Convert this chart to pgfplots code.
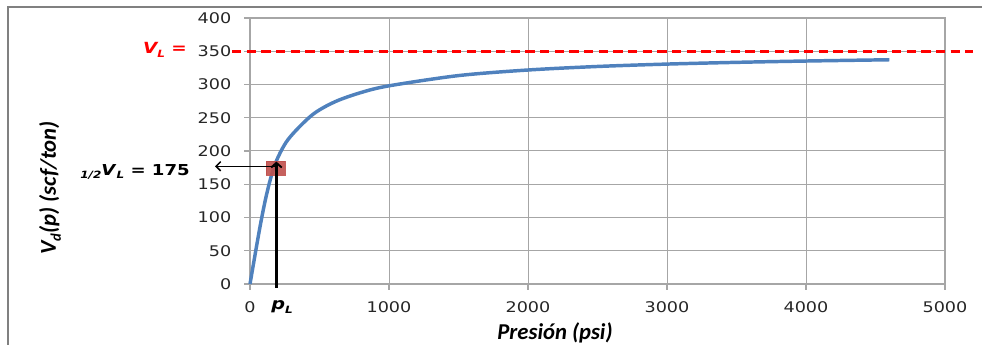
\documentclass[border=0pt]{standalone}
\usepackage{fontspec}
\setmainfont{DejaVu Sans}
\newfontfamily\tickfont[FakeStretch=1.2]{DejaVu Sans}
\newfontfamily\annfont[FakeStretch=1.2]{DejaVu Sans}
\newfontfamily\labfont{Carlito}
\usepackage{pgfplots}
\pgfplotsset{compat=1.18}
\usetikzlibrary{arrows.meta}
\definecolor{curveblue}{RGB}{79,129,189}
\definecolor{markred}{RGB}{192,80,77}
\definecolor{gridgray}{RGB}{166,166,166}
\definecolor{framegray}{RGB}{128,128,128}
\pgfplotstableread{
p V
0 0
72 86
122 137
180 180
273 217
446 254
611 274
800 288
1000 298
1500 313.4
2000 321.8
2500 327.1
3000 330.7
3500 333.3
4000 335.3
4600 337.2
}\langmuir
\begin{document}
\begin{tikzpicture}
\path[use as bounding box] (0,0) rectangle (736.5pt,258.75pt);
\draw[framegray, line width=1.1pt] (6pt,0) -- (6pt,253.5pt) -- (736.5pt,253.5pt);
\begin{axis}[
  at={(187.5pt,45.75pt)}, anchor=south west,
  scale only axis, width=521.25pt, height=199.5pt,
  xmin=0, xmax=5000, ymin=0, ymax=400,
  xtick={0,1000,2000,3000,4000,5000},
  ytick={0,50,100,150,200,250,300,350,400},
  grid=major,
  major grid style={gridgray, line width=0.75pt},
  axis line style={gridgray, line width=0.9pt},
  tick style={gridgray, line width=0.9pt},
  tick align=outside, major tick length=4.5pt,
  xtick pos=bottom, ytick pos=left,
  /pgf/number format/assume math mode=true,
  /pgf/number format/1000 sep={},
  ticklabel style={font=\tickfont\fontsize{11}{13}\selectfont, text=black!85},
  xticklabel style={yshift=-5pt},
  yticklabel style={xshift=-6pt},
  clip=false,
]
\addplot[red, line width=2.25pt, dash pattern=on 7pt off 4pt] coordinates {(-129,350) (5201,350)};
\addplot[curveblue, line width=2.6pt, smooth, tension=0.5] table[x=p,y=V] {\langmuir};
\addplot[only marks, mark=square*, mark size=5.25pt, mark options={xscale=1.36, fill=markred, draw=markred, opacity=0.9}] coordinates {(183,174)};
\coordinate (vb) at (axis cs:190,-6);
\coordinate (vt) at (axis cs:190,184);
\coordinate (hr) at (axis cs:190,177);
\coordinate (hl) at (axis cs:-252,177);
\end{axis}
\draw[black, line width=1.9pt, -{Straight Barb[length=3.5pt,width=8pt,line width=1.4pt]}] (vb) -- (vt);
\draw[black, line width=1.1pt, -{Straight Barb[length=3.5pt,width=7pt,line width=1.1pt]}] (hr) -- (hl);
\node[anchor=east, text=red, font=\annfont\bfseries\itshape\fontsize{11.5}{14}\selectfont, inner sep=0pt] at (140.25pt,221.25pt) {V\raisebox{-0.45ex}{\fontsize{7.5}{8}\selectfont L} =};
\node[anchor=east, font=\annfont\bfseries\fontsize{11.3}{13}\selectfont, inner sep=0pt] at (142.5pt,129.75pt) {\raisebox{-0.45ex}{\fontsize{7.5}{8}\selectfont\itshape 1/2}\textit{V}\raisebox{-0.45ex}{\fontsize{7.5}{8}\selectfont\itshape L} = 175};
\node[font=\annfont\bfseries\itshape\fontsize{12}{14}\selectfont, inner sep=0pt] at (211.5pt,28.5pt) {p\raisebox{-0.45ex}{\fontsize{7.5}{8}\selectfont L}};
\node[font=\labfont\bfseries\itshape\fontsize{17}{19}\selectfont, inner sep=0pt] at (416.25pt,9pt) {Presión (psi)};
\node[rotate=90, font=\labfont\bfseries\itshape\fontsize{17}{19}\selectfont, inner sep=0pt] at (37.5pt,117.75pt) {V\raisebox{-0.45ex}{\fontsize{11}{12}\selectfont d}(p) (scf/ton)};
\end{tikzpicture}
\end{document}
